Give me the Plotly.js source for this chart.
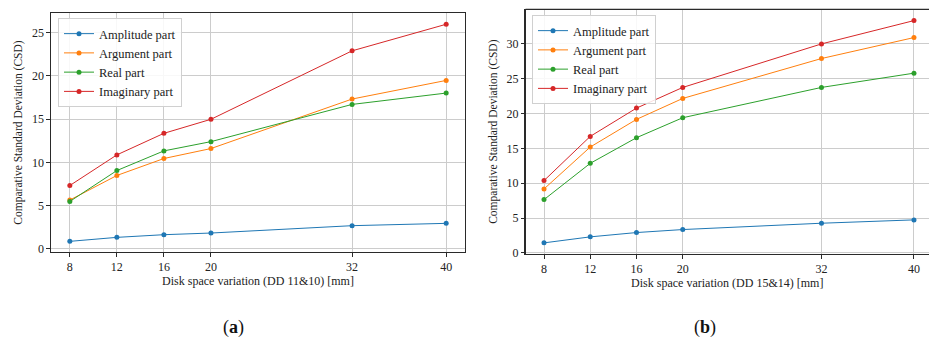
<!DOCTYPE html>
<html>
<head>
<meta charset="utf-8">
<script src="https://cdn.plot.ly/plotly-3.0.1.min.js"></script>
<style>html,body{margin:0;padding:0;background:#fff;overflow:hidden}#plot{width:929px;height:342px}</style>
</head>
<body>
<div id="plot"></div>
<script>
const xValues = [8, 12, 16, 20, 32, 40];
const xTickLabels = ['8', '12', '16', '20', '32', '40'];
const seriesNames = ['Amplitude part', 'Argument part', 'Real part', 'Imaginary part'];
const seriesColors = ['#1f77b4', '#ff7f0e', '#2ca02c', '#d62728'];

// Panel (a): DD 11&10
const ampA  = [0.88, 1.34, 1.65, 1.84, 2.69, 2.96];
const argA  = [5.65, 8.49, 10.45, 11.6, 17.32, 19.47];
const realA = [5.49, 9.06, 11.33, 12.4, 16.7, 18.01];
const imagA = [7.33, 10.87, 13.36, 14.98, 22.89, 25.96];

// Panel (b): DD 15&14
const ampB  = [1.43, 2.29, 2.91, 3.34, 4.25, 4.73];
const argB  = [9.17, 15.19, 19.16, 22.17, 27.9, 30.91];
const realB = [7.64, 12.85, 16.53, 19.4, 23.75, 25.8];
const imagB = [10.37, 16.72, 20.78, 23.75, 30.0, 33.35];

const panelA = [ampA, argA, realA, imagA];
const panelB = [ampB, argB, realB, imagB];

const FONT = '"Liberation Serif", "Times New Roman", serif';
const traces = [];
panelA.forEach((ys, i) => traces.push({
  x: xValues, y: ys, name: seriesNames[i], type: 'scatter', mode: 'lines+markers',
  line: {color: seriesColors[i], width: 1}, marker: {color: seriesColors[i], size: 5},
  xaxis: 'x', yaxis: 'y', legend: 'legend'
}));
panelB.forEach((ys, i) => traces.push({
  x: xValues, y: ys, name: seriesNames[i], type: 'scatter', mode: 'lines+markers',
  line: {color: seriesColors[i], width: 1}, marker: {color: seriesColors[i], size: 5},
  xaxis: 'x2', yaxis: 'y2', legend: 'legend2'
}));

const axCommon = {
  showgrid: true, gridcolor: '#cccccc', gridwidth: 1, zeroline: false,
  showline: true, linecolor: '#2a2a2a', linewidth: 1.2,
  ticks: 'outside', ticklen: 3.5, tickcolor: '#2a2a2a',
  tickfont: {family: FONT, size: 12, color: '#222'}
};

const legendCommon = {
  bgcolor: 'rgba(255,255,255,0.85)', bordercolor: '#d0d0d0', borderwidth: 1,
  font: {family: FONT, size: 12.5, color: '#222'},
  xanchor: 'left', yanchor: 'top', tracegroupgap: 0
};

const layout = {
  width: 929, height: 342,
  margin: {l: 0, r: 0, t: 0, b: 0},
  paper_bgcolor: '#fff', plot_bgcolor: '#fff',
  showlegend: true,
  xaxis: Object.assign({}, axCommon, {
    domain: [51/929, 465/929], range: [6.4, 41.6], mirror: true,
    tickvals: xValues, ticktext: xTickLabels, anchor: 'y',
    title: {text: 'Disk space variation (DD 11&10) [mm]', font: {family: FONT, size: 12, color: '#222'}, standoff: 3}
  }),
  yaxis: Object.assign({}, axCommon, {
    domain: [1 - 252/342, 1 - 13/342], range: [-0.35, 27.26], mirror: true,
    tickvals: [0, 5, 10, 15, 20, 25], anchor: 'x',
    title: {text: 'Comparative Standard Deviation (CSD)', font: {family: FONT, size: 11.5, color: '#222'}, standoff: 6}
  }),
  xaxis2: Object.assign({}, axCommon, {
    domain: [525.5/929, 1], range: [6.4, 41.3], mirror: false,
    tickvals: xValues, ticktext: xTickLabels, anchor: 'y2',
    title: {text: 'Disk space variation (DD 15&14) [mm]', font: {family: FONT, size: 12, color: '#222'}, standoff: 3}
  }),
  yaxis2: Object.assign({}, axCommon, {
    domain: [1 - 254/342, 1 - 9.3/342], range: [-0.17, 34.97], mirror: false,
    tickvals: [0, 5, 10, 15, 20, 25, 30], anchor: 'x2',
    title: {text: 'Comparative Standard Deviation (CSD)', font: {family: FONT, size: 11.5, color: '#222'}, standoff: 6}
  }),
  legend: Object.assign({}, legendCommon, {x: 58/929, y: 1 - 18/342}),
  legend2: Object.assign({}, legendCommon, {x: 532/929, y: 1 - 15/342}),
  shapes: [
    {type: 'line', xref: 'paper', yref: 'paper', x0: 525.5/929, x1: 1, y0: 1 - 9.3/342, y1: 1 - 9.3/342, line: {color: '#2a2a2a', width: 1.2}}
  ],
  annotations: [
    {text: '(<b>a</b>)', xref: 'paper', yref: 'paper', x: 233/929, y: 1 - 327/342, xanchor: 'center', yanchor: 'middle', showarrow: false, font: {family: FONT, size: 18, color: '#111'}},
    {text: '(<b>b</b>)', xref: 'paper', yref: 'paper', x: 705/929, y: 1 - 327/342, xanchor: 'center', yanchor: 'middle', showarrow: false, font: {family: FONT, size: 18, color: '#111'}}
  ]
};

Plotly.newPlot('plot', traces, layout, {staticPlot: true, displayModeBar: false});
</script>
</body>
</html>
